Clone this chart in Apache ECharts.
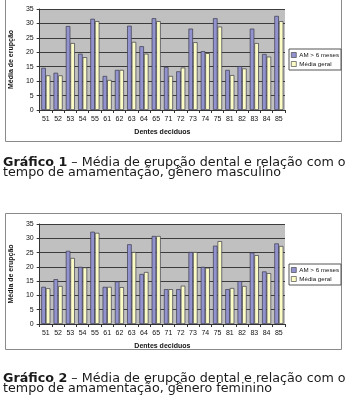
<!DOCTYPE html>
<html>
<head>
<meta charset="utf-8">
<script src="https://cdn.jsdelivr.net/npm/echarts@6/dist/echarts.min.js"></script>
<style>
  html, body { margin: 0; padding: 0; background: #fff; }
  #chart { width: 350px; height: 400px; }
</style>
</head>
<body>
<div id="chart"></div>
<script>
// Dentes decíduos (categorias do eixo X)
const teeth = ['51','52','53','54','55','61','62','63','64','65','71','72','73','74','75','81','82','83','84','85'];

// Gráfico 1 – gênero masculino
const maleAM6 = [14.6, 12.9, 29.1, 19.5, 31.6, 11.8, 13.9, 29.2, 22.1, 31.8, 14.9, 13.4, 28.2, 20.4, 31.8, 13.9, 15.2, 28.2, 19.4, 32.6];
const maleMean = [12.0, 12.0, 23.2, 18.3, 30.8, 10.4, 13.9, 23.6, 19.5, 30.8, 11.8, 14.7, 23.5, 19.7, 28.9, 12.1, 14.4, 23.2, 18.5, 30.8];

// Gráfico 2 – gênero feminino
const femaleAM6 = [13.0, 15.7, 25.6, 20.0, 32.3, 13.0, 14.9, 27.9, 17.5, 30.8, 12.2, 12.2, 25.2, 20.0, 27.4, 12.2, 15.0, 25.0, 18.4, 28.2];
const femaleMean = [12.5, 13.3, 23.1, 19.8, 31.9, 13.0, 12.9, 25.2, 18.2, 30.8, 12.2, 13.4, 25.2, 19.7, 29.0, 12.6, 13.3, 24.1, 17.8, 27.3];

const seriesNames = ['AM > 6 meses', 'Média geral'];
const yTicks = { min: 0, max: 35, step: 5 };
const axisTitleX = 'Dentes deciduos';
const axisTitleY = 'Média de erupção';

const captions = [
  { bold: 'Gráfico 1', rest: ' – Média de erupção dental e relação com o', line2: 'tempo de amamentação, gênero masculino' },
  { bold: 'Gráfico 2', rest: ' – Média de erupção dental e relação com o', line2: 'tempo de amamentação, gênero feminino' }
];

const BLUE = '#9292cf';
const YELLOW = '#fbfbc6';
const FONT = 'Liberation Sans, Arial, sans-serif';

const grids = [
  { left: 35, top: 9, width: 250, height: 101 },
  { left: 35, top: 224, width: 250, height: 100 }
];

function xAxisFor(i) {
  return {
    type: 'category', gridIndex: i, data: teeth,
    axisLine: { lineStyle: { color: '#333', width: 1 } },
    axisTick: { show: true, alignWithLabel: false, length: 3, lineStyle: { color: '#333' } },
    axisLabel: { fontSize: 7, color: '#111', margin: 6, fontFamily: FONT },
    name: axisTitleX, nameLocation: 'middle', nameGap: 19,
    nameTextStyle: { fontSize: 7, fontWeight: 'bold', color: '#111', fontFamily: FONT }
  };
}
function yAxisFor(i) {
  return {
    type: 'value', gridIndex: i, min: yTicks.min, max: yTicks.max, interval: yTicks.step,
    axisLine: { show: true, lineStyle: { color: '#333', width: 1 } },
    axisTick: { show: true, length: 3, lineStyle: { color: '#333' } },
    axisLabel: { fontSize: 7, color: '#111', margin: 6, fontFamily: FONT },
    splitLine: { show: true, lineStyle: { color: '#3c3c3c', width: 1 } },
    name: axisTitleY, nameLocation: 'middle', nameRotate: 90, nameGap: 18,
    nameTextStyle: { fontSize: 7, fontWeight: 'bold', color: '#111', fontFamily: FONT }
  };
}
function barSeries(name, data, idx, color) {
  return {
    name, type: 'bar', data, xAxisIndex: idx, yAxisIndex: idx,
    barGap: '0%', barCategoryGap: '26%',
    itemStyle: { color, borderColor: '#3a3a4a', borderWidth: 0.7 },
    animation: false
  };
}
function legendFor(i, top) {
  return {
    show: true, orient: 'vertical', left: 289, top,
    data: [
      { name: seriesNames[0], icon: 'rect' },
      { name: seriesNames[1], icon: 'rect' }
    ],
    itemWidth: 5, itemHeight: 5, itemGap: 3,
    padding: [3, 2, 3, 2],
    borderColor: '#555', borderWidth: 1, borderRadius: 0,
    textStyle: { fontSize: 6.2, color: '#111', fontFamily: FONT, padding: [0, 0, 0, -2] },
    selectedMode: false,
    itemStyle: { borderColor: '#333', borderWidth: 0.6 }
  };
}

function captionGraphic(c, top) {
  const common = { left: 3, scaleX: 1.06, scaleY: 0.95, originX: 0, originY: 0 };
  return [
    Object.assign({
      type: 'text', top,
      style: {
        text: '{b|' + c.bold + '}{r|' + c.rest + '}',
        rich: {
          b: { fontSize: 12, fontWeight: 'bold', fill: '#1a1a1a', fontFamily: 'DejaVu Sans' },
          r: { fontSize: 12, fill: '#1a1a1a', fontFamily: 'DejaVu Sans' }
        }
      }
    }, common),
    Object.assign({
      type: 'text', top: top + 10.5,
      style: { text: c.line2, fontSize: 12, fill: '#1a1a1a', fontFamily: 'DejaVu Sans' }
    }, common)
  ];
}

const chart = echarts.init(document.getElementById('chart'), null, { renderer: 'canvas' });
chart.setOption({
  animation: false,
  backgroundColor: '#ffffff',
  color: [BLUE, YELLOW],
  grid: grids.map(g => Object.assign({ show: true, backgroundColor: '#c0c0c0', borderColor: '#777', borderWidth: 0 }, g)),
  xAxis: [xAxisFor(0), xAxisFor(1)],
  yAxis: [yAxisFor(0), yAxisFor(1)],
  legend: [legendFor(0, 49), legendFor(1, 264)],
  series: [
    barSeries(seriesNames[0], maleAM6, 0, BLUE),
    barSeries(seriesNames[1], maleMean, 0, YELLOW),
    barSeries(seriesNames[0], femaleAM6, 1, BLUE),
    barSeries(seriesNames[1], femaleMean, 1, YELLOW)
  ],
  graphic: [
    { type: 'rect', shape: { x: 5.5, y: -5.5, width: 336, height: 147 }, style: { fill: 'none', stroke: '#8a8a8a', lineWidth: 1 }, silent: true },
    { type: 'rect', shape: { x: 5.5, y: 213.5, width: 336, height: 136 }, style: { fill: 'none', stroke: '#8a8a8a', lineWidth: 1 }, silent: true },
    ...captionGraphic(captions[0], 157),
    ...captionGraphic(captions[1], 373)
  ]
});
</script>
</body>
</html>
